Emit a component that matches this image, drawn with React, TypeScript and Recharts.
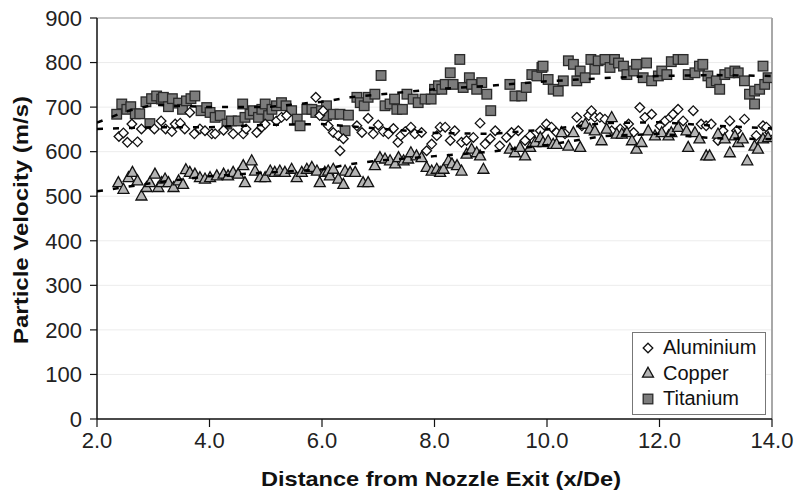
import React from 'react';
import { ScatterChart, Scatter, XAxis, YAxis, CartesianGrid, ReferenceLine, Legend } from 'recharts';

const FONT = '"Liberation Sans", Arial, Helvetica, sans-serif';

const xTicks = [2, 4, 6, 8, 10, 12, 14];
const yTicks = [0, 100, 200, 300, 400, 500, 600, 700, 800, 900];

const aluminium: [number, number][] = [
  [2.39, 634], [2.47, 642], [2.54, 621], [2.62, 662], [2.72, 622], [2.79, 651], [3.02, 651], [3.14, 669],
  [3.22, 651], [3.33, 645], [3.39, 662], [3.48, 664], [3.56, 651], [3.65, 688], [3.73, 640], [3.83, 651],
  [3.92, 647], [4.04, 640], [4.1, 640], [4.25, 648], [4.42, 640], [4.6, 640], [4.65, 651], [4.84, 643],
  [4.93, 655], [4.99, 662], [5.19, 669], [5.28, 677], [5.37, 681], [5.89, 722], [5.96, 681], [6.02, 692],
  [6.11, 658], [6.2, 643], [6.29, 636], [6.32, 602], [6.38, 629], [6.62, 658], [6.71, 643], [6.82, 675],
  [6.91, 640], [7.0, 660], [7.09, 645], [7.18, 640], [7.27, 652], [7.35, 621], [7.4, 636], [7.48, 645],
  [7.58, 655], [7.65, 640], [7.77, 643], [7.86, 602], [7.95, 617], [8.04, 636], [8.1, 655], [8.19, 655],
  [8.28, 625], [8.36, 647], [8.48, 621], [8.57, 625], [8.69, 632], [8.81, 664], [8.9, 617], [8.99, 629],
  [9.08, 647], [9.16, 613], [9.28, 632], [9.37, 643], [9.49, 647], [9.61, 625], [9.7, 636], [9.88, 647],
  [9.99, 662], [10.08, 655], [10.17, 643], [10.32, 640], [10.53, 677], [10.62, 658], [10.74, 681], [10.79, 692],
  [10.85, 677], [10.94, 677], [11.03, 673], [11.15, 647], [11.3, 651], [11.45, 662], [11.54, 643], [11.65, 699],
  [11.74, 677], [11.86, 684], [12.01, 658], [12.1, 669], [12.19, 677], [12.24, 684], [12.33, 695], [12.42, 669],
  [12.6, 692], [12.74, 662], [12.83, 658], [12.92, 662], [13.04, 625], [13.13, 647], [13.25, 669], [13.37, 647],
  [13.51, 673], [13.72, 636], [13.84, 658], [13.9, 655], [13.96, 643],
];

const copper: [number, number][] = [
  [2.38, 531], [2.47, 516], [2.56, 542], [2.63, 554], [2.72, 535], [2.79, 501], [2.88, 520], [2.94, 531],
  [3.03, 550], [3.09, 520], [3.15, 531], [3.21, 539], [3.27, 531], [3.36, 520], [3.45, 535], [3.53, 527],
  [3.58, 560], [3.65, 554], [3.74, 550], [3.83, 542], [3.92, 539], [4.01, 542], [4.13, 546], [4.25, 550],
  [4.33, 546], [4.42, 554], [4.51, 550], [4.6, 569], [4.63, 531], [4.75, 580], [4.81, 557], [4.9, 542],
  [4.99, 542], [5.08, 557], [5.16, 554], [5.25, 557], [5.34, 554], [5.46, 561], [5.55, 542], [5.64, 554],
  [5.73, 561], [5.82, 565], [5.91, 557], [5.96, 531], [6.05, 554], [6.11, 557], [6.14, 546], [6.2, 561],
  [6.29, 539], [6.38, 527], [6.41, 557], [6.5, 554], [6.59, 554], [6.73, 531], [6.82, 531], [6.94, 569],
  [7.03, 587], [7.12, 584], [7.21, 580], [7.3, 573], [7.36, 587], [7.45, 580], [7.53, 584], [7.58, 598],
  [7.68, 591], [7.77, 587], [7.86, 565], [7.95, 557], [8.04, 561], [8.1, 554], [8.16, 561], [8.25, 580],
  [8.31, 573], [8.4, 569], [8.48, 557], [8.57, 595], [8.66, 606], [8.75, 598], [8.81, 591], [8.87, 561],
  [9.34, 606], [9.43, 598], [9.52, 610], [9.61, 591], [9.7, 610], [9.79, 621], [9.88, 632], [9.93, 621],
  [10.02, 625], [10.11, 617], [10.17, 617], [10.26, 643], [10.38, 613], [10.47, 643], [10.59, 610], [10.68, 662],
  [10.76, 651], [10.85, 647], [10.97, 625], [11.06, 651], [11.15, 677], [11.24, 640], [11.33, 640], [11.42, 643],
  [11.51, 625], [11.59, 606], [11.68, 621], [11.8, 647], [11.92, 636], [12.04, 643], [12.16, 636], [12.21, 643],
  [12.33, 655], [12.48, 647], [12.51, 610], [12.63, 643], [12.71, 629], [12.83, 591], [12.89, 591], [13.04, 640],
  [13.16, 629], [13.25, 598], [13.34, 636], [13.4, 621], [13.48, 629], [13.56, 580], [13.69, 613], [13.75, 606],
  [13.84, 629], [13.93, 632],
];

const titanium: [number, number][] = [
  [2.35, 684], [2.44, 707], [2.53, 695], [2.6, 701], [2.68, 685], [2.76, 685], [2.87, 712], [2.94, 663],
  [2.97, 719], [3.06, 725], [3.15, 718], [3.18, 722], [3.27, 701], [3.34, 719], [3.45, 709], [3.52, 695],
  [3.59, 714], [3.67, 719], [3.74, 725], [3.85, 692], [3.95, 699], [4.01, 688], [4.1, 677], [4.19, 681],
  [4.31, 662], [4.39, 669], [4.51, 669], [4.59, 707], [4.63, 677], [4.72, 684], [4.78, 692], [4.87, 677],
  [4.93, 695], [4.99, 707], [5.05, 681], [5.11, 695], [5.19, 703], [5.28, 710], [5.36, 703], [5.46, 692],
  [5.56, 673], [5.61, 658], [5.73, 695], [5.82, 695], [5.89, 688], [5.99, 692], [6.08, 681], [6.08, 703],
  [6.2, 684], [6.32, 684], [6.41, 647], [6.47, 682], [6.62, 722], [6.68, 710], [6.75, 703], [6.82, 722],
  [6.94, 729], [7.05, 771], [7.12, 703], [7.21, 707], [7.29, 718], [7.33, 695], [7.43, 695], [7.51, 729],
  [7.62, 718], [7.71, 710], [7.83, 718], [7.94, 718], [8.0, 740], [8.07, 748], [8.13, 740], [8.19, 751],
  [8.28, 777], [8.33, 751], [8.45, 807], [8.51, 744], [8.62, 766], [8.66, 751], [8.75, 740], [8.84, 755],
  [8.93, 729], [9.0, 692], [9.34, 751], [9.43, 725], [9.55, 725], [9.63, 744], [9.73, 773], [9.82, 770],
  [9.91, 789], [9.93, 792], [10.02, 762], [10.11, 740], [10.2, 736], [10.29, 759], [10.38, 804], [10.47, 796],
  [10.53, 759], [10.59, 781], [10.68, 766], [10.78, 807], [10.85, 785], [10.91, 804], [11.03, 807], [11.12, 789],
  [11.2, 807], [11.27, 799], [11.36, 792], [11.42, 773], [11.54, 781], [11.59, 796], [11.71, 766], [11.77, 799],
  [11.86, 759], [11.98, 770], [12.04, 781], [12.13, 773], [12.21, 802], [12.33, 807], [12.42, 807], [12.51, 773],
  [12.63, 777], [12.71, 792], [12.77, 796], [12.86, 770], [12.92, 755], [13.01, 759], [13.07, 740], [13.16, 773],
  [13.25, 777], [13.34, 781], [13.4, 777], [13.51, 759], [13.6, 729], [13.69, 736], [13.69, 707], [13.78, 740],
  [13.84, 792], [13.87, 751], [13.93, 766],
];

const titaniumTrend: [number, number][] = [
  [2.0, 665], [2.5, 690], [3.0, 705], [4.0, 700], [5.0, 700], [6.0, 712], [6.5, 722], [7.0, 728],
  [8.0, 740], [9.0, 748], [10.0, 758], [11.0, 765], [12.0, 770], [13.0, 772], [14.0, 770],
];
const aluminiumTrend: [number, number][] = [
  [2.0, 651], [3.0, 655], [4.0, 655], [5.0, 660], [6.0, 662], [7.0, 652], [8.0, 642], [9.0, 640],
  [10.0, 650], [11.0, 664], [12.0, 666], [13.0, 658], [14.0, 652],
];
const copperTrend: [number, number][] = [
  [2.0, 511], [3.0, 530], [4.0, 545], [5.0, 553], [6.0, 560], [6.5, 572], [7.0, 580], [8.0, 590],
  [9.0, 600], [10.0, 615], [11.0, 635], [12.0, 640], [13.0, 630], [14.0, 628],
];

const series = [
  { name: 'Aluminium', data: aluminium },
  { name: 'Copper', data: copper },
  { name: 'Titanium', data: titanium },
];

const toPts = (arr: [number, number][]) => arr.map(([x, y]) => ({ x, y }));

const Diamond = (props: any) => {
  const { cx, cy } = props;
  if (cx == null || cy == null) return <g />;
  const r = 4.8;
  return (
    <path d={`M${cx},${cy - r}L${cx + r},${cy}L${cx},${cy + r}L${cx - r},${cy}Z`} fill="#fff" stroke="#111" strokeWidth={1.3} />
  );
};

const Triangle = (props: any) => {
  const { cx, cy } = props;
  if (cx == null || cy == null) return <g />;
  const w = 5.5;
  return (
    <path d={`M${cx},${cy - 5.8}L${cx + w},${cy + 4.2}L${cx - w},${cy + 4.2}Z`} fill="#b4b4b4" stroke="#111" strokeWidth={1.3} />
  );
};

const Square = (props: any) => {
  const { cx, cy } = props;
  if (cx == null || cy == null) return <g />;
  const s = 4.8;
  return <rect x={cx - s} y={cy - s} width={2 * s} height={2 * s} fill="#7c7c7c" stroke="#2a2a2a" strokeWidth={1.3} />;
};

const Empty = () => <g />;

const shapes: Record<string, any> = { Aluminium: Diamond, Copper: Triangle, Titanium: Square };

const LegendBox = () => (
  <div
    style={{
      border: '1px solid #777',
      background: '#fff',
      padding: '2px 8px 2px 8px',
      fontFamily: FONT,
      fontSize: 20,
      color: '#111',
      width: 116,
    }}
  >
    {series.map((s) => {
      const Shape = shapes[s.name];
      return (
        <div key={s.name} style={{ display: 'flex', alignItems: 'center', height: 25.5 }}>
          <svg width={14} height={14} style={{ marginRight: 8 }}>
            <Shape cx={7} cy={7} />
          </svg>
          <span>{s.name}</span>
        </div>
      );
    })}
  </div>
);

const YTitle = () => (
  <text
    x={20}
    y={220}
    transform="rotate(-90 20 220)"
    textAnchor="middle"
    dominantBaseline="central"
    textLength={248}
    lengthAdjust="spacingAndGlyphs"
    style={{ fontFamily: FONT, fontSize: 21, fontWeight: 'bold', fill: '#111' }}
  >
    Particle Velocity (m/s)
  </text>
);

const XTitle = () => (
  <text
    x={441}
    y={478}
    textAnchor="middle"
    dominantBaseline="central"
    textLength={360}
    lengthAdjust="spacingAndGlyphs"
    style={{ fontFamily: FONT, fontSize: 21, fontWeight: 'bold', fill: '#111' }}
  >
    Distance from Nozzle Exit (x/De)
  </text>
);

export default function App() {
  return (
    <div style={{ position: 'absolute', left: 0, top: 0, background: '#fff' }}>
      <ScatterChart width={795} height={497} margin={{ top: 18, right: 23, bottom: 0, left: 0 }}>
        <CartesianGrid vertical={false} horizontal stroke="#ececec" strokeWidth={1} />
        <XAxis
          type="number"
          dataKey="x"
          domain={[2, 14]}
          ticks={xTicks}
          allowDataOverflow
          tickFormatter={(v: number) => v.toFixed(1)}
          height={78}
          tickSize={8}
          tickMargin={5}
          axisLine={{ stroke: '#111', strokeWidth: 1.5 }}
          tickLine={{ stroke: '#111', strokeWidth: 1.2 }}
          tick={{ fontSize: 22, fill: '#222', fontFamily: FONT }}
          label={{ content: () => <XTitle /> }}
        />
        <YAxis
          type="number"
          dataKey="y"
          domain={[0, 900]}
          ticks={yTicks}
          allowDataOverflow
          width={97}
          tickSize={7}
          tickMargin={8}
          axisLine={{ stroke: '#111', strokeWidth: 1.5 }}
          tickLine={{ stroke: '#111', strokeWidth: 1.2 }}
          tick={{ fontSize: 22, fill: '#222', fontFamily: FONT }}
          label={{ content: () => <YTitle /> }}
        />
        <ReferenceLine y={900} stroke="#bdbdbd" strokeWidth={1.5} />
        <ReferenceLine x={14} stroke="#a8a8a8" strokeWidth={2} />
        <Scatter name="Titanium" data={toPts(titanium)} shape={Square} isAnimationActive={false} />
        <Scatter name="Aluminium" data={toPts(aluminium)} shape={Diamond} isAnimationActive={false} />
        <Scatter name="Copper" data={toPts(copper)} shape={Triangle} isAnimationActive={false} />
        <Scatter
          name="tiTrend"
          data={toPts(titaniumTrend)}
          shape={Empty}
          line={{ stroke: '#000', strokeWidth: 2.5, strokeDasharray: '6 10' }}
          legendType="none"
          isAnimationActive={false}
        />
        <Scatter
          name="alTrend"
          data={toPts(aluminiumTrend)}
          shape={Empty}
          line={{ stroke: '#000', strokeWidth: 2.5, strokeDasharray: '6 10' }}
          legendType="none"
          isAnimationActive={false}
        />
        <Scatter
          name="cuTrend"
          data={toPts(copperTrend)}
          shape={Empty}
          line={{ stroke: '#000', strokeWidth: 2.5, strokeDasharray: '6 10' }}
          legendType="none"
          isAnimationActive={false}
        />
        <Legend
          layout="vertical"
          align="center"
          verticalAlign="middle"
          content={() => <LegendBox />}
          wrapperStyle={{ left: 632, top: 332, width: 135 }}
        />
      </ScatterChart>
    </div>
  );
}
